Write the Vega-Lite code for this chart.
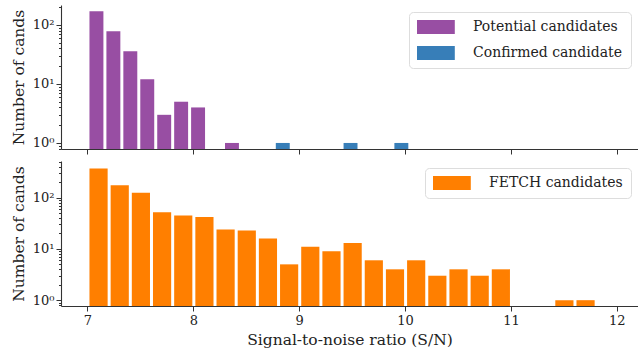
{
  "$schema": "https://vega.github.io/schema/vega-lite/v6.json",
  "padding": {"left": 11, "top": 5, "right": 0, "bottom": 0},
  "background": "white",
  "config": {
    "font": "DejaVu Serif",
    "view": {"stroke": null},
    "axis": {
      "grid": false,
      "domainColor": "#333333",
      "tickColor": "#333333",
      "labelColor": "#222222",
      "titleColor": "#222222",
      "labelFont": "DejaVu Serif",
      "titleFont": "DejaVu Serif",
      "labelFontSize": 13,
      "titleFontSize": 15.5,
      "titleFontWeight": "normal",
      "domainWidth": 1.1,
      "tickWidth": 1
    },
    "legend": {
      "labelFont": "DejaVu Serif",
      "labelFontSize": 14,
      "labelColor": "#222222",
      "strokeColor": "#dddddd",
      "fillColor": "white",
      "cornerRadius": 4,
      "padding": 8,
      "rowPadding": 12,
      "labelOffset": 42,
      "symbolType": "M-1,-1L4.4,-1L4.4,1L-1,1Z",
      "symbolSize": 196,
      "symbolStrokeWidth": 0,
      "orient": "top-right",
      "offset": 7,
      "title": null
    }
  },
  "datasets": {
    "top": [
      {"type": "Potential candidates", "start": 7.00, "end": 7.16, "count": 170},
      {"type": "Potential candidates", "start": 7.16, "end": 7.32, "count": 78},
      {"type": "Potential candidates", "start": 7.32, "end": 7.48, "count": 36},
      {"type": "Potential candidates", "start": 7.48, "end": 7.64, "count": 12},
      {"type": "Potential candidates", "start": 7.64, "end": 7.80, "count": 3},
      {"type": "Potential candidates", "start": 7.80, "end": 7.96, "count": 5},
      {"type": "Potential candidates", "start": 7.96, "end": 8.12, "count": 4},
      {"type": "Potential candidates", "start": 8.28, "end": 8.44, "count": 1},
      {"type": "Confirmed candidate", "start": 8.76, "end": 8.92, "count": 1},
      {"type": "Confirmed candidate", "start": 9.40, "end": 9.56, "count": 1},
      {"type": "Confirmed candidate", "start": 9.88, "end": 10.04, "count": 1}
    ],
    "bottom": [
      {"type": "FETCH candidates", "start": 7.0, "end": 7.2, "count": 370},
      {"type": "FETCH candidates", "start": 7.2, "end": 7.4, "count": 175},
      {"type": "FETCH candidates", "start": 7.4, "end": 7.6, "count": 125},
      {"type": "FETCH candidates", "start": 7.6, "end": 7.8, "count": 52},
      {"type": "FETCH candidates", "start": 7.8, "end": 8.0, "count": 45},
      {"type": "FETCH candidates", "start": 8.0, "end": 8.2, "count": 42},
      {"type": "FETCH candidates", "start": 8.2, "end": 8.4, "count": 24},
      {"type": "FETCH candidates", "start": 8.4, "end": 8.6, "count": 23},
      {"type": "FETCH candidates", "start": 8.6, "end": 8.8, "count": 16},
      {"type": "FETCH candidates", "start": 8.8, "end": 9.0, "count": 5},
      {"type": "FETCH candidates", "start": 9.0, "end": 9.2, "count": 11},
      {"type": "FETCH candidates", "start": 9.2, "end": 9.4, "count": 9},
      {"type": "FETCH candidates", "start": 9.4, "end": 9.6, "count": 13},
      {"type": "FETCH candidates", "start": 9.6, "end": 9.8, "count": 6},
      {"type": "FETCH candidates", "start": 9.8, "end": 10.0, "count": 4},
      {"type": "FETCH candidates", "start": 10.0, "end": 10.2, "count": 6},
      {"type": "FETCH candidates", "start": 10.2, "end": 10.4, "count": 3},
      {"type": "FETCH candidates", "start": 10.4, "end": 10.6, "count": 4},
      {"type": "FETCH candidates", "start": 10.6, "end": 10.8, "count": 3},
      {"type": "FETCH candidates", "start": 10.8, "end": 11.0, "count": 4},
      {"type": "FETCH candidates", "start": 11.4, "end": 11.6, "count": 1},
      {"type": "FETCH candidates", "start": 11.6, "end": 11.8, "count": 1}
    ]
  },
  "resolve": {"scale": {"color": "independent", "x": "independent", "y": "independent"}},
  "spacing": 6,
  "vconcat": [
    {
      "width": 577,
      "height": 144,
      "data": {"name": "top"},
      "mark": {"type": "bar", "binSpacing": 3},
      "encoding": {
        "x": {
          "field": "start", "type": "quantitative", "bin": "binned",
          "scale": {"domain": [6.75, 12.2], "nice": false, "zero": false},
          "axis": {"values": [7, 8, 9, 10, 11, 12], "labels": false, "title": null, "tickSize": 5}
        },
        "x2": {"field": "end"},
        "y": {
          "field": "count", "type": "quantitative",
          "scale": {"type": "log", "domain": [0.79, 218], "nice": false},
          "axis": {
            "title": "Number of cands",
            "titlePadding": 6,
            "labelPadding": 2,
            "values": [0.8, 0.9, 1, 2, 3, 4, 5, 6, 7, 8, 9, 10, 20, 30, 40, 50, 60, 70, 80, 90, 100, 200],
            "labelExpr": "datum.value == 100 ? '10²' : datum.value == 10 ? '10¹' : datum.value == 1 ? '10⁰' : ''",
            "tickSize": {"condition": {"test": "datum.value == 1 || datum.value == 10 || datum.value == 100", "value": 5}, "value": 2.5}
          }
        },
        "y2": {"datum": 0.79},
        "color": {
          "field": "type", "type": "nominal",
          "scale": {"domain": ["Potential candidates", "Confirmed candidate"], "range": ["#984ea3", "#377eb8"]},
          "legend": {"title": null}
        }
      }
    },
    {
      "width": 577,
      "height": 145,
      "data": {"name": "bottom"},
      "mark": {"type": "bar", "binSpacing": 3},
      "encoding": {
        "x": {
          "field": "start", "type": "quantitative", "bin": "binned",
          "scale": {"domain": [6.75, 12.2], "nice": false, "zero": false},
          "axis": {"values": [7, 8, 9, 10, 11, 12], "title": "Signal-to-noise ratio (S/N)", "tickSize": 5, "labelPadding": 3, "titlePadding": 5}
        },
        "x2": {"field": "end"},
        "y": {
          "field": "count", "type": "quantitative",
          "scale": {"type": "log", "domain": [0.77, 519], "nice": false},
          "axis": {
            "title": "Number of cands",
            "titlePadding": 6,
            "labelPadding": 2,
            "values": [0.8, 0.9, 1, 2, 3, 4, 5, 6, 7, 8, 9, 10, 20, 30, 40, 50, 60, 70, 80, 90, 100, 200, 300, 400, 500],
            "labelExpr": "datum.value == 100 ? '10²' : datum.value == 10 ? '10¹' : datum.value == 1 ? '10⁰' : ''",
            "tickSize": {"condition": {"test": "datum.value == 1 || datum.value == 10 || datum.value == 100", "value": 5}, "value": 2.5}
          }
        },
        "y2": {"datum": 0.77},
        "color": {
          "field": "type", "type": "nominal",
          "scale": {"domain": ["FETCH candidates"], "range": ["#ff7f00"]},
          "legend": {"title": null}
        }
      }
    }
  ]
}
